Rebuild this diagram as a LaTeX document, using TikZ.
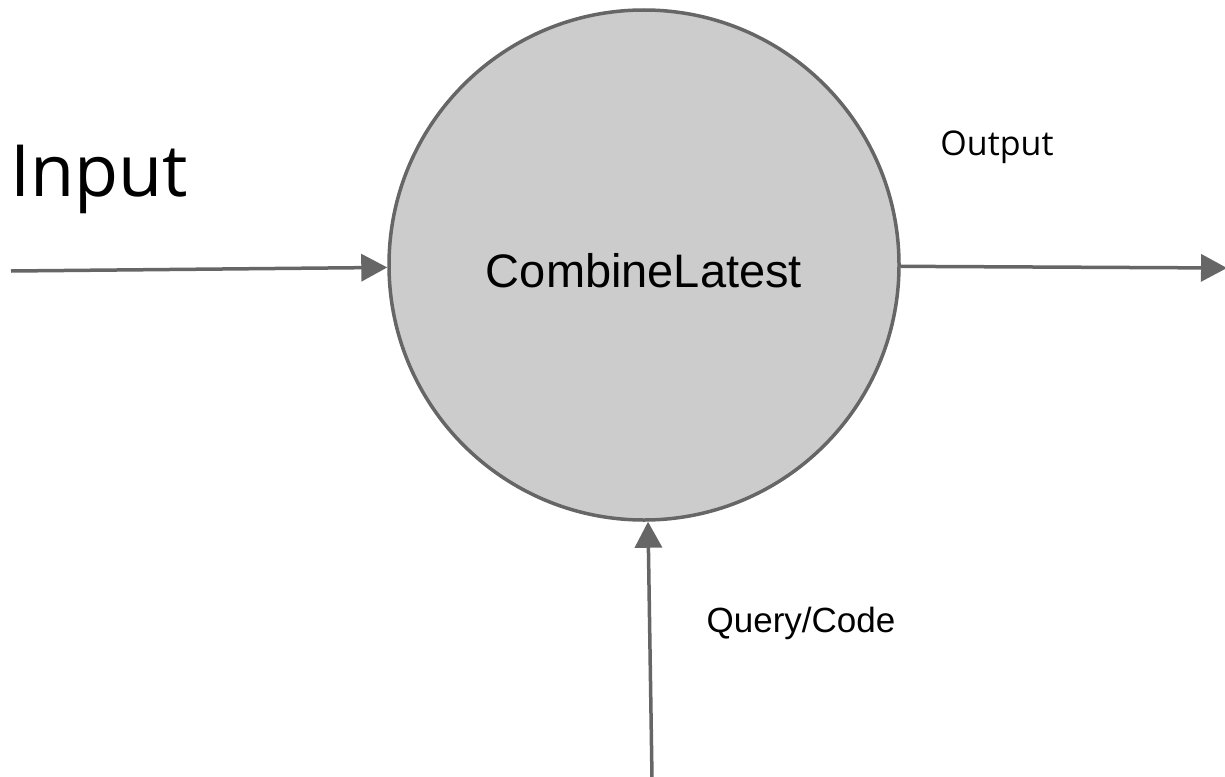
\documentclass[tikz,border=0pt]{standalone}
\usepackage{fontspec}
\setmainfont{Liberation Sans}
\newfontfamily\labelfont{Open Sans}
\usetikzlibrary{arrows.meta}
\definecolor{edgegray}{HTML}{666666}
\definecolor{opfill}{HTML}{CCCCCC}
\tikzset{
  flow/.style={draw=edgegray, line width=3.5pt,
    -{Triangle[length=26pt,width=27pt]}},
  opnode/.style={circle, draw=edgegray, fill=opfill, line width=3.5pt,
    minimum size=510pt, inner sep=0pt},
  txt/.style={anchor=base, inner sep=0pt, text=black}
}
\begin{document}
\begin{tikzpicture}[x=1pt, y=-1pt]
  \useasboundingbox (0,0) rectangle (1225,776);
  % operator
  \node[opnode] (op) at (644,265) {};
  \node[txt, font=\fontsize{47}{56}\selectfont] (opname) at (644,287) {CombineLatest};
  % stream ends
  \coordinate (src) at (11,271);
  \coordinate (sink) at (1227,268);
  \coordinate (query) at (652,778);
  % connectors
  \draw[flow] (src) -- (op);
  \draw[flow] (op) -- (sink);
  \draw[flow] (query) -- (op);
  % labels
  \node[txt, font=\labelfont\fontsize{72}{86}\selectfont] (inlabel) at (99,196) {Input};
  \node[txt, font=\labelfont\fontsize{34}{41}\selectfont] (outlabel) at (997,155) {Output};
  \node[txt, font=\fontsize{35}{42}\selectfont] (qlabel) at (801,632) {Query/Code};
\end{tikzpicture}
\end{document}
